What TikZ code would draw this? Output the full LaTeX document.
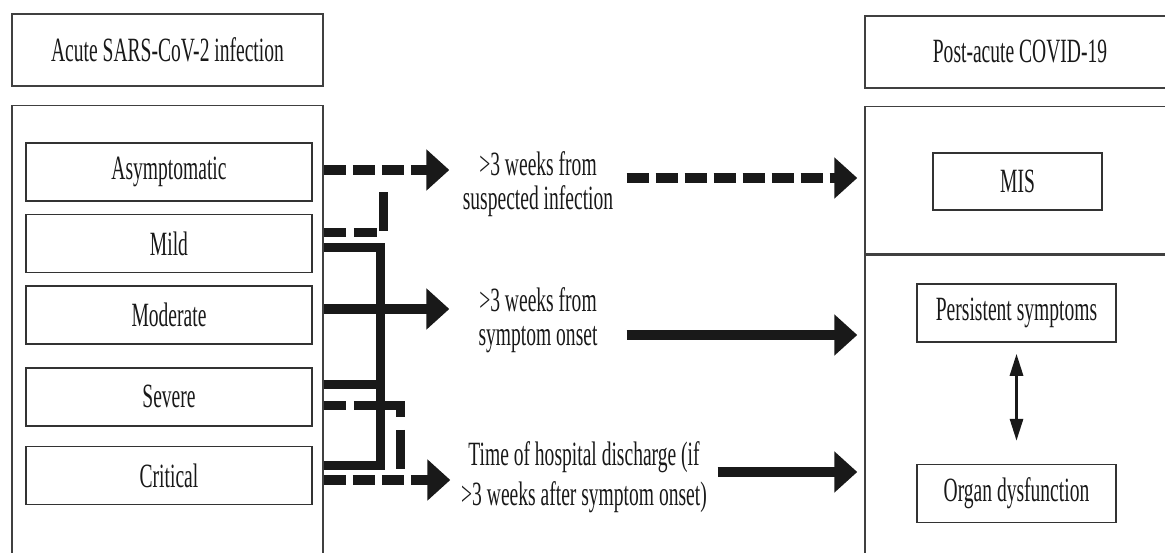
\documentclass[tikz,border=0pt]{standalone}
\usepackage{fontspec}
\setmainfont{Liberation Serif}[FakeStretch=0.575]
\usepackage{tikz}
\usetikzlibrary{positioning,arrows.meta}
\tikzstyle{panel} = [draw=black!75, line width=1.5pt, inner sep=0pt]
\tikzstyle{stage} = [draw=black!80, line width=1.6pt, inner sep=0pt, minimum width=286pt, minimum height=58pt]
\tikzstyle{timing} = [align=center, inner sep=0pt, minimum width=177pt]
\tikzstyle{fat} = [line width=10pt, -{Triangle[length=23pt,width=40pt]}]
\tikzstyle{dashline} = [dash pattern=on 22pt off 7pt]
\tikzstyle{bracket} = [line width=9pt, line join=miter]

\begin{document}
\begin{tikzpicture}[x=1pt, y=-1pt, font=\fontsize{34}{34}\selectfont, color=black!90]
		\clip (0,0) rectangle (1165,553);
		% Panels
		\node[panel, minimum width=311pt, minimum height=72pt] (acute) at (167.5,50) {Acute SARS-CoV-2 infection};
		\node[panel, minimum width=311pt, minimum height=500pt, below=18pt of acute] (leftpanel) {};
		\node[panel, minimum width=310pt, minimum height=72pt] (post) at (1020,52) {Post-acute COVID-19};
		\node[panel, minimum width=310pt, minimum height=147pt, below=17pt of post] (mispanel) {};
		\node[panel, minimum width=310pt, minimum height=400pt, below=0pt of mispanel] (seqpanel) {};
		% Severity
		\node[stage] (asym) at (169,172) {Asymptomatic};
		\node[stage, below=12pt of asym] (mild) {Mild};
		\node[stage, below=12pt of mild] (moderate) {Moderate};
		\node[stage, below=22pt of moderate] (severe) {Severe};
		\node[stage, below=19pt of severe] (critical) {Critical};
		% Outcomes
		\node[stage, minimum width=169pt, minimum height=57pt] (mis) at (1017.5,181.5) {MIS};
		\node[stage, minimum width=199pt] (persist) at (1016.5,313) {Persistent symptoms};
		\node[stage, minimum width=199pt, below=121pt of persist] (organ) {Organ dysfunction};
		% Timing
		\node[timing] (t1) at (538,184) {>3 weeks from\\suspected infection};
		\node[timing] (t2) at (538,320) {>3 weeks from\\symptom onset};
		\node[timing, minimum width=267pt, font=\fontsize{34}{40}\selectfont] (t3) at (584,477) {Time of hospital discharge (if\\>3 weeks after symptom onset)};
		% Brackets
		\coordinate (jsolid) at (380,0);
		\coordinate (jup) at (383,192);
		\coordinate (jlow) at (400,0);
		\draw[bracket] (leftpanel.east |- 0,248) -| (jsolid |- 0,465) -- (leftpanel.east |- 0,465);
		\draw[bracket] (leftpanel.east |- 0,384) -- (jsolid |- 0,384);
		\draw[bracket, dash pattern=on 22pt off 8pt on 23pt off 8pt on 45pt] (leftpanel.east |- 0,233) -| (jup);
		\draw[bracket, dash pattern=on 22pt off 8pt on 23pt off 8pt on 27pt off 13pt on 39pt off 50pt] (leftpanel.east |- 0,405) -| (jlow |- 0,480);
		% Arrows
		\draw[fat, dashline] (leftpanel.east |- 0,170) -- (t1.west |- 0,170);
		\draw[fat] (leftpanel.east |- 0,309) -- (t2.west |- 0,309);
		\draw[fat, dashline] (leftpanel.east |- 0,480) -- (t3.west |- 0,480);
		\draw[fat, dashline, shorten >=7pt] (t1.east |- 0,178) -- (mispanel.west |- 0,178);
		\draw[fat, shorten >=7pt] (t2.east |- 0,335) -- (seqpanel.west |- 0,335);
		\draw[fat, shorten >=7pt] (t3.east |- 0,472) -- (seqpanel.west |- 0,472);
		\draw[line width=3pt, {Triangle[length=22pt,width=13pt]}-{Triangle[length=22pt,width=13pt]}, shorten <=11pt, shorten >=23pt] (persist) -- (organ);
	\end{tikzpicture}
\end{document}
